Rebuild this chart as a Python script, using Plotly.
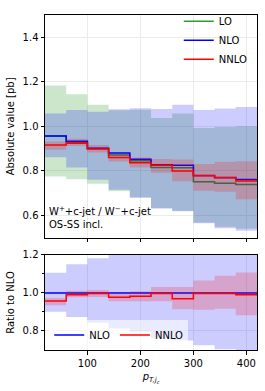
import plotly.graph_objects as go

# ---- data ----
bin_edges = [20, 60, 100, 140, 180, 220, 260, 300, 340, 380, 420]

lo_central = [0.957, 0.927, 0.901, 0.872, 0.846, 0.815, 0.814, 0.751, 0.745, 0.739]
lo_low = [0.775, 0.763, 0.742, 0.709, 0.683, 0.633, 0.621, 0.569, 0.550, 0.540]
lo_high = [1.183, 1.144, 1.097, 1.072, 1.075, 1.038, 1.058, 0.993, 0.997, 1.001]

nlo_central = [0.957, 0.933, 0.902, 0.880, 0.852, 0.828, 0.825, 0.780, 0.771, 0.762]
nlo_low = [0.862, 0.815, 0.760, 0.716, 0.678, 0.631, 0.619, 0.565, 0.543, 0.531]
nlo_high = [1.058, 1.073, 1.066, 1.077, 1.081, 1.078, 1.097, 1.073, 1.080, 1.087]

nnlo_central = [0.916, 0.924, 0.899, 0.860, 0.837, 0.826, 0.800, 0.778, 0.769, 0.755]
nnlo_low = [0.895, 0.912, 0.883, 0.842, 0.815, 0.792, 0.754, 0.711, 0.707, 0.673]
nnlo_high = [0.932, 0.944, 0.916, 0.877, 0.860, 0.854, 0.851, 0.831, 0.841, 0.844]

top_yticks = [0.6, 0.8, 1.0, 1.2, 1.4]
ratio_yticks = [0.8, 1.0, 1.2]
xticks = [100, 200, 300, 400]

FONT = "DejaVu Sans"


def stepy(vals):
    return list(vals) + [vals[-1]]


def ratio(a, b):
    return [x / y for x, y in zip(a, b)]


fig = go.Figure()


def add_series(xa, ya, central, low, high, color, band, name, legend, showleg):
    fig.add_trace(go.Scatter(x=bin_edges, y=stepy(central), mode="lines",
                             line=dict(color=color, width=1.5, shape="hv"),
                             name=name, showlegend=showleg, legend=legend,
                             xaxis=xa, yaxis=ya))
    fig.add_trace(go.Scatter(x=bin_edges, y=stepy(low), mode="lines",
                             line=dict(width=0, shape="hv"), showlegend=False,
                             xaxis=xa, yaxis=ya, hoverinfo="skip"))
    fig.add_trace(go.Scatter(x=bin_edges, y=stepy(high), mode="lines",
                             line=dict(width=0, shape="hv"), fill="tonexty",
                             fillcolor=band, showlegend=False,
                             xaxis=xa, yaxis=ya, hoverinfo="skip"))


GREEN = "#2ca02c"
add_series("x", "y", lo_central, lo_low, lo_high, GREEN, "rgba(0,128,0,0.2)", "LO", "legend", True)
add_series("x", "y", nlo_central, nlo_low, nlo_high, "blue", "rgba(0,0,255,0.2)", "NLO", "legend", True)
add_series("x", "y", nnlo_central, nnlo_low, nnlo_high, "red", "rgba(255,0,0,0.2)", "NNLO", "legend", True)

add_series("x2", "y2", ratio(nlo_central, nlo_central), ratio(nlo_low, nlo_central),
           ratio(nlo_high, nlo_central), "blue", "rgba(0,0,255,0.2)", "NLO", "legend2", True)
add_series("x2", "y2", ratio(nnlo_central, nlo_central), ratio(nnlo_low, nlo_central),
           ratio(nnlo_high, nlo_central), "red", "rgba(255,0,0,0.2)", "NNLO", "legend2", True)

axis_common = dict(showline=True, linecolor="black", linewidth=1, mirror=True,
                   ticks="outside", ticklen=3.5, tickcolor="black", tickwidth=1,
                   showgrid=True, gridcolor="#ebebeb", gridwidth=1, zeroline=False,
                   tickfont=dict(family=FONT, size=10, color="black"))

fig.update_layout(
    width=265, height=391,
    margin=dict(l=45, r=8, t=7, b=41),
    paper_bgcolor="white", plot_bgcolor="white",
    font=dict(family=FONT, size=10, color="black"),
    xaxis=dict(domain=[0, 1], range=[20, 420], anchor="y", matches="x2",
               tickvals=xticks, showticklabels=False, **axis_common),
    yaxis=dict(domain=[0.335, 1], range=[0.5, 1.5], anchor="x",
               tickvals=top_yticks, tickformat=".1f",
               title=dict(text="Absolute value [pb]", font=dict(family=FONT, size=10), standoff=6),
               **axis_common),
    xaxis2=dict(domain=[0, 1], range=[20, 420], anchor="y2",
                tickvals=xticks,
                title=dict(text="<i>p</i><sub><i>T,j</i><sub><i>c</i></sub></sub>",
                           font=dict(family=FONT, size=10), standoff=5),
                **axis_common),
    yaxis2=dict(domain=[0, 0.284], range=[0.7, 1.2], anchor="x2",
                tickvals=ratio_yticks, tickformat=".1f",
                minor=dict(tickvals=[0.9, 1.1], ticks="outside", ticklen=2,
                           tickcolor="black", showgrid=False),
                title=dict(text="Ratio to NLO", font=dict(family=FONT, size=10), standoff=6),
                **axis_common),
    legend=dict(x=0.98, y=1.025, xanchor="right", yanchor="top",
                bgcolor="rgba(0,0,0,0)", font=dict(family=FONT, size=10),
                itemwidth=30, tracegroupgap=0, traceorder="normal"),
    legend2=dict(x=0.02, y=0.045, xanchor="left", yanchor="middle",
                 orientation="h", bgcolor="rgba(255,255,255,0.6)",
                 font=dict(family=FONT, size=10), itemwidth=30, traceorder="normal"),
    annotations=[dict(text="W<sup>+</sup>+c-jet / W<sup>−</sup>+c-jet<br>OS-SS incl.",
                      xref="x", yref="y", x=24, y=0.525, xanchor="left", yanchor="bottom",
                      align="left", showarrow=False,
                      font=dict(family=FONT, size=10, color="black"))],
)

fig.write_html("out.html",
               config={"displayModeBar": False},
               post_script="document.body.style.margin='0px';document.body.style.padding='0px';")
